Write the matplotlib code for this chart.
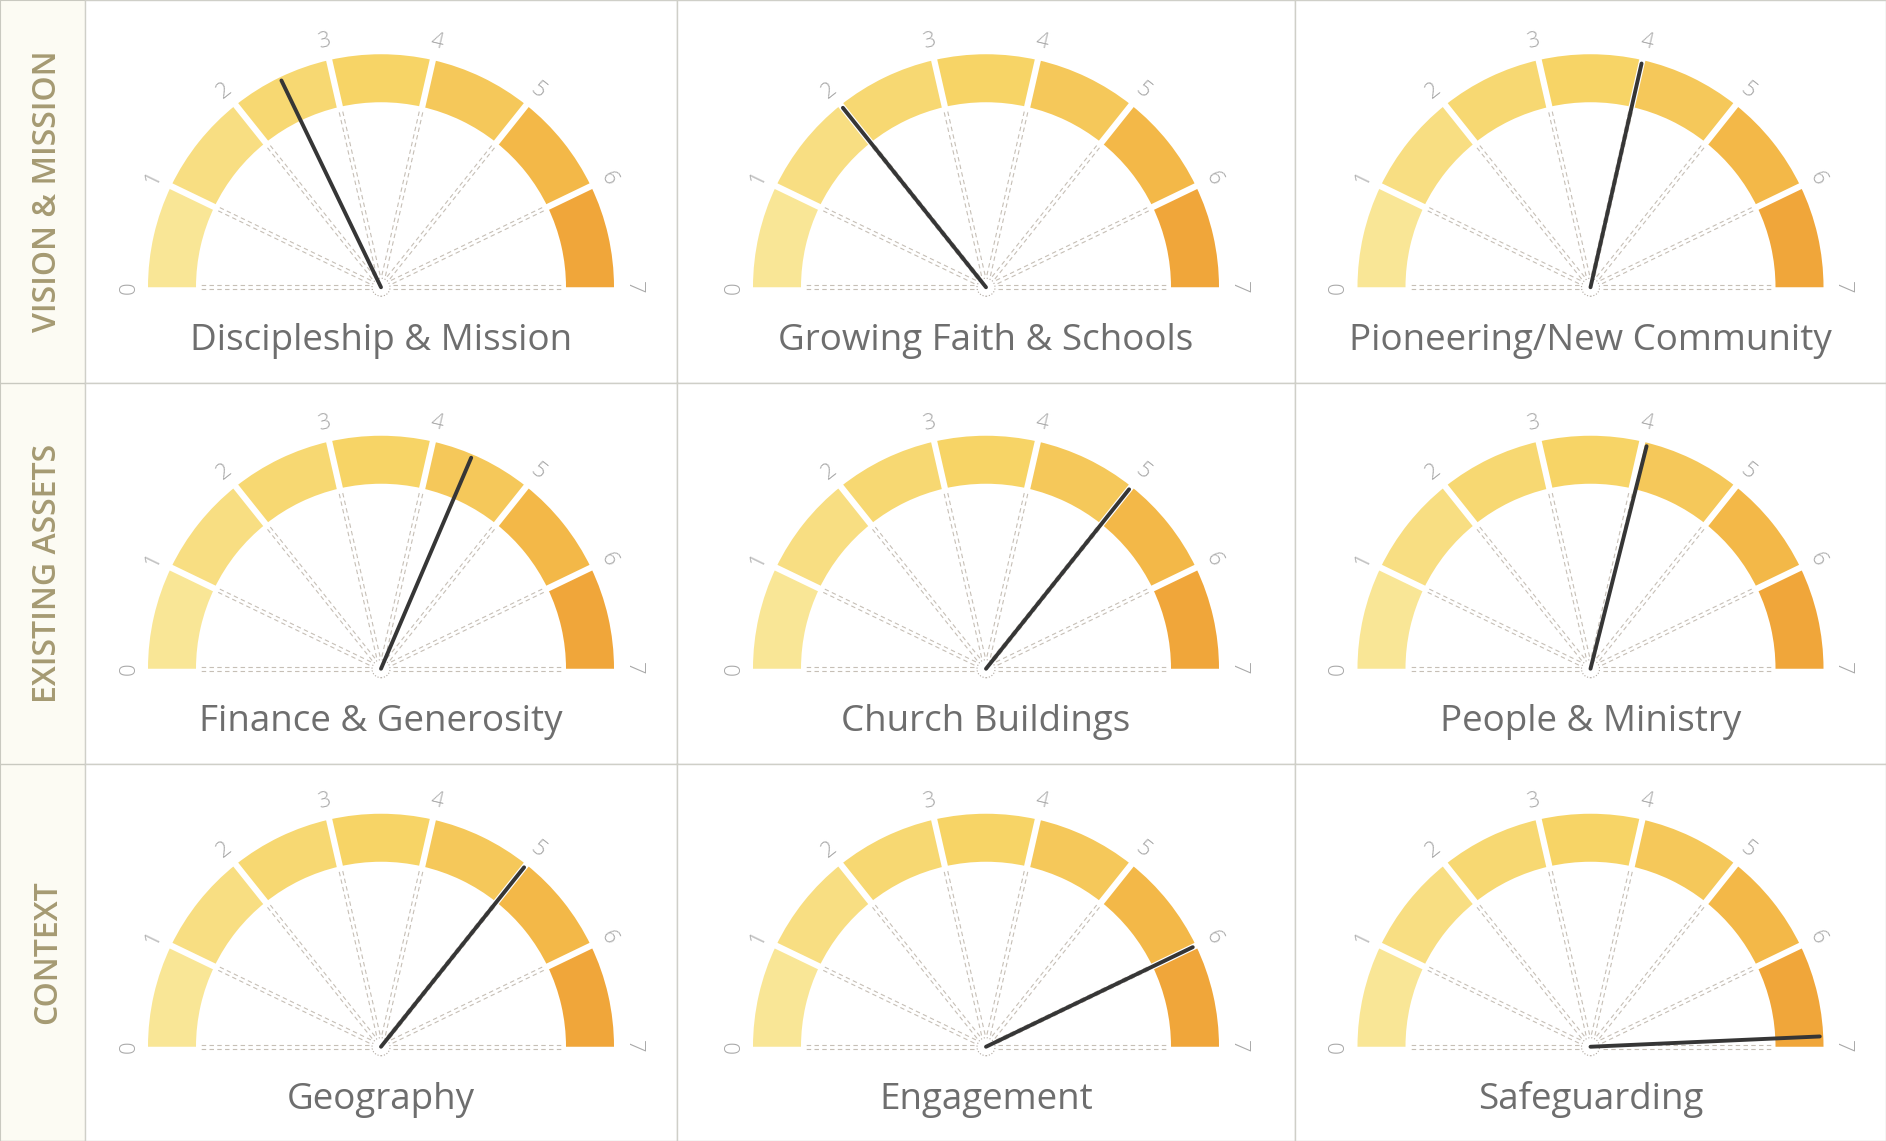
import numpy as np
import matplotlib.pyplot as plt
from matplotlib.patches import Wedge, Circle

plt.rcParams['font.family'] = ['Open Sans', 'DejaVu Sans']

# row headings, gauge titles and scores (scale 0-7)
rows = ['VISION & MISSION', 'EXISTING ASSETS', 'CONTEXT']
titles = [['Discipleship & Mission', 'Growing Faith & Schools', 'Pioneering/New Community'],
          ['Finance & Generosity', 'Church Buildings', 'People & Ministry'],
          ['Geography', 'Engagement', 'Safeguarding']]
scores = [[2.5, 2.0, 4.0],
          [4.4, 5.0, 4.05],
          [5.0, 6.0, 6.9]]
ticks = [0, 1, 2, 3, 4, 5, 6, 7]
band_colors = ['#f9e696', '#f8de82', '#f7d872', '#f7d466', '#f5c85a', '#f3b848', '#f0a63a']

W, H = 1886, 1141
col_x = [85, 677, 1295, 1886]
row_y = [0, 383, 764, 1141]   # measured from the top
R_out, R_in, R_lab = 233, 185, 252
vmax = 7

def ang(v):
    return np.pi * (1 - v / vmax)

fig = plt.figure(figsize=(W / 100, H / 100), dpi=100)
fig.patch.set_facecolor('white')

# left column with row headings
lab = fig.add_axes([0, 0, col_x[0] / W, 1])
lab.set_xlim(0, col_x[0])
lab.set_ylim(H, 0)
lab.set_xticks([])
lab.set_yticks([])
lab.set_facecolor('#fcfbf3')
for s in lab.spines.values():
    s.set_color('#c9c9c0')
for i, name in enumerate(rows):
    yc = (row_y[i] + row_y[i + 1]) / 2
    lab.axhline(row_y[i + 1], color='#c9c9c0', lw=1)
    lab.text(48, yc, name, rotation=90, ha='center', va='center',
             fontsize=23, fontweight='semibold', color='#a59a72')

for i in range(3):
    for j in range(3):
        x0, x1 = col_x[j], col_x[j + 1]
        y0, y1 = row_y[i], row_y[i + 1]
        w, h = x1 - x0, y1 - y0
        ax = fig.add_axes([x0 / W, 1 - y1 / H, w / W, h / H])
        ax.set_xlim(0, w)
        ax.set_ylim(0, h)
        ax.set_xticks([])
        ax.set_yticks([])
        for s in ax.spines.values():
            s.set_color('#cfcfc8')
            s.set_linewidth(1)
        cx, cy = w / 2, h * 0.25

        # coloured bands
        for k in range(vmax):
            t1 = np.degrees(ang(k + 1))
            t2 = np.degrees(ang(k))
            ax.add_patch(Wedge((cx, cy), R_out, t1, t2, width=R_out - R_in,
                               facecolor=band_colors[k], edgecolor='none'))
        # white gaps between bands
        for k in range(1, vmax):
            a = ang(k)
            ax.plot([cx + (R_in - 4) * np.cos(a), cx + (R_out + 4) * np.cos(a)],
                    [cy + (R_in - 4) * np.sin(a), cy + (R_out + 4) * np.sin(a)],
                    color='white', lw=4.5, solid_capstyle='butt')

        # dashed spokes and tick numbers
        for v in ticks:
            a = ang(v)
            nx, ny = -np.sin(a), np.cos(a)
            for off in (-1.8, 1.8):
                ax.plot([cx + 12 * np.cos(a) + off * nx, cx + (R_in - 4) * np.cos(a) + off * nx],
                        [cy + 12 * np.sin(a) + off * ny, cy + (R_in - 4) * np.sin(a) + off * ny],
                        color='#c6bfb6', lw=0.8, ls=(0, (4, 3)))
            ax.text(cx + R_lab * np.cos(a), cy + R_lab * np.sin(a), str(v),
                    rotation=np.degrees(a) - 90, rotation_mode='anchor',
                    ha='center', va='center', fontsize=16, color='#a8a8a8',
                    fontweight='light')

        # needle and hub
        a = ang(scores[i][j])
        ax.plot([cx, cx + 0.985 * R_out * np.cos(a)], [cy, cy + 0.985 * R_out * np.sin(a)],
                color='#363636', lw=2.8, solid_capstyle='round', zorder=5)
        ax.add_patch(Circle((cx, cy), 9, facecolor='none', edgecolor='#b0a8a0',
                            lw=0.8, ls=':', zorder=4))

        ax.text(cx, h * 0.11, titles[i][j], ha='center', va='center',
                fontsize=26.5, color='#6e6e6e')

fig.savefig('out.png', dpi=100)
